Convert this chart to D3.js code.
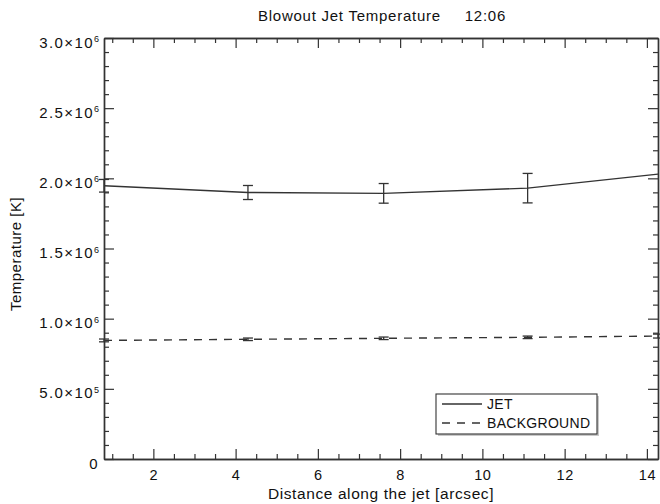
<!DOCTYPE html>
<html>
<head>
<meta charset="utf-8">
<script src="https://cdn.jsdelivr.net/npm/d3@7"></script>
<style>
  html, body { margin: 0; padding: 0; background: #fff; }
  svg { display: block; font-family: "Liberation Sans", Arial, Helvetica, sans-serif; }
</style>
</head>
<body>
<svg id="chart" width="660" height="504"></svg>
<script>
// ---- Data ----
const distance = [0.8, 4.3, 7.6, 11.1, 14.27];
const jetTemp = [1.947e6, 1.899e6, 1.893e6, 1.930e6, 2.030e6];
const jetErr = [0.045e6, 0.05e6, 0.07e6, 0.105e6, 0];
const bgTemp = [0.845e6, 0.853e6, 0.860e6, 0.867e6, 0.876e6];
const bgErr = [0.010e6, 0.009e6, 0.009e6, 0.009e6, 0.014e6];

const xTicks = [2, 4, 6, 8, 10, 12, 14];
const xTickLabels = ["2", "4", "6", "8", "10", "12", "14"];
const yTicks = [0, 5e5, 1.0e6, 1.5e6, 2.0e6, 2.5e6, 3.0e6];
const yTickLabels = ["0", "5.0×10^5", "1.0×10^6", "1.5×10^6", "2.0×10^6", "2.5×10^6", "3.0×10^6"];
const xMinor = d3.range(1.0, 14.01, 0.5).filter(v => Math.abs(v - Math.round(v / 2) * 2) > 1e-6);
const yMinor = d3.range(1e5, 3e6, 1e5).filter(v => Math.abs(v / 5e5 - Math.round(v / 5e5)) > 1e-6);

const titleText = "Blowout Jet Temperature";
const timeText = "12:06";
const xTitle = "Distance along the jet [arcsec]";
const yTitle = "Temperature [K]";
const seriesNames = ["JET", "BACKGROUND"];

// ---- Layout ----
const L = 104, R = 658, T = 38, B = 459;
const ink = "#333";
const svg = d3.select("#chart");

const x = d3.scaleLinear().domain([0.8, 14.27]).range([L, R]);
const y = d3.scaleLinear().domain([0, 3e6]).range([B, T]);

function styleAxis(g) {
  g.select(".domain").attr("stroke", ink).attr("stroke-width", 1.4);
  g.selectAll(".tick line").attr("stroke", ink).attr("stroke-width", 1.2);
  g.selectAll("text").attr("fill", "#111");
}

// minor ticks
svg.append("g").attr("transform", `translate(0,${B})`)
  .call(d3.axisBottom(x).tickValues(xMinor).tickSizeInner(-5).tickSizeOuter(0).tickFormat(""))
  .call(styleAxis);
svg.append("g").attr("transform", `translate(0,${T})`)
  .call(d3.axisTop(x).tickValues(xMinor).tickSizeInner(-5).tickSizeOuter(0).tickFormat(""))
  .call(styleAxis);
svg.append("g").attr("transform", `translate(${L},0)`)
  .call(d3.axisLeft(y).tickValues(yMinor).tickSizeInner(-5).tickSizeOuter(0).tickFormat(""))
  .call(styleAxis);
svg.append("g").attr("transform", `translate(${R},0)`)
  .call(d3.axisRight(y).tickValues(yMinor).tickSizeInner(-5).tickSizeOuter(0).tickFormat(""))
  .call(styleAxis);

// major ticks
const xb = svg.append("g").attr("transform", `translate(0,${B})`)
  .call(d3.axisBottom(x).tickValues(xTicks).tickSizeInner(-10).tickSizeOuter(0)
    .tickPadding(11).tickFormat((d, i) => xTickLabels[i]))
  .call(styleAxis);
xb.selectAll("text").attr("font-size", 14.5).attr("letter-spacing", 0.6).attr("font-family", null);
svg.append("g").attr("transform", `translate(0,${T})`)
  .call(d3.axisTop(x).tickValues(xTicks).tickSizeInner(-10).tickSizeOuter(0).tickFormat(""))
  .call(styleAxis);
const yl = svg.append("g").attr("transform", `translate(${L},0)`)
  .call(d3.axisLeft(y).tickValues(yTicks).tickSizeInner(-10).tickSizeOuter(0)
    .tickPadding(5).tickFormat((d, i) => yTickLabels[i]))
  .call(styleAxis);
yl.selectAll("text").attr("font-family", null).attr("font-size", 15).attr("letter-spacing", 1.4)
  .attr("dy", "0.6em")
  .each(function () {
    const t = d3.select(this);
    const parts = t.text().split("^");
    t.text(parts[0]);
    if (parts[1]) {
      t.append("tspan").attr("dy", "-0.6em").attr("font-size", 9).attr("letter-spacing", 0).text(parts[1]);
    }
  });
svg.append("g").attr("transform", `translate(${R},0)`)
  .call(d3.axisRight(y).tickValues(yTicks).tickSizeInner(-10).tickSizeOuter(0).tickFormat(""))
  .call(styleAxis);

// ---- Series ----
const idx = d3.range(distance.length);
const line = (vals) => d3.line().x(i => x(distance[i])).y(i => y(vals[i]))(idx);

svg.append("path").attr("d", line(jetTemp)).attr("fill", "none")
  .attr("stroke", ink).attr("stroke-width", 1.4);
svg.append("path").attr("d", line(bgTemp)).attr("fill", "none")
  .attr("stroke", ink).attr("stroke-width", 1.4).attr("stroke-dasharray", "8,7");

function errBars(vals, errs) {
  const g = svg.append("g").attr("stroke", ink).attr("stroke-width", 1.3);
  idx.filter(i => errs[i] > 0).forEach(i => {
    const cx = x(distance[i]);
    const y1 = y(vals[i] + errs[i]), y2 = y(vals[i] - errs[i]);
    g.append("line").attr("x1", cx).attr("x2", cx).attr("y1", y1).attr("y2", y2);
    g.append("line").attr("x1", cx - 5).attr("x2", cx + 5).attr("y1", y1).attr("y2", y1);
    g.append("line").attr("x1", cx - 5).attr("x2", cx + 5).attr("y1", y2).attr("y2", y2);
  });
}
errBars(jetTemp, jetErr);
errBars(bgTemp, bgErr);

// ---- Titles ----
svg.append("text").attr("x", 258).attr("y", 21).attr("font-size", 15).attr("letter-spacing", 0.75)
  .attr("fill", "#111").text(titleText);
svg.append("text").attr("x", 506).attr("y", 21).attr("font-size", 15).attr("letter-spacing", 0.75)
  .attr("text-anchor", "end").attr("fill", "#111").text(timeText);
svg.append("text").attr("x", (L + R) / 2).attr("y", 499).attr("font-size", 15.5).attr("letter-spacing", 0.6)
  .attr("text-anchor", "middle").attr("fill", "#111").text(xTitle);
svg.append("text").attr("transform", `translate(21,${254}) rotate(-90)`).attr("font-size", 15)
  .attr("letter-spacing", 0.5).attr("text-anchor", "middle").attr("fill", "#111").text(yTitle);

// ---- Legend ----
const lg = svg.append("g");
lg.append("rect").attr("x", 438).attr("y", 396).attr("width", 161).attr("height", 40).attr("fill", "#c8c8c8");
lg.append("rect").attr("x", 436).attr("y", 394).attr("width", 161).attr("height", 40)
  .attr("fill", "#fff").attr("stroke", ink).attr("stroke-width", 1.1);
const dashes = [null, "8,7"];
seriesNames.forEach((name, i) => {
  const ly = 404 + i * 19;
  lg.append("line").attr("x1", 442).attr("x2", 482).attr("y1", ly).attr("y2", ly)
    .attr("stroke", ink).attr("stroke-width", 1.3).attr("stroke-dasharray", dashes[i]);
  lg.append("text").attr("x", 487).attr("y", ly + 5).attr("font-size", 14).attr("letter-spacing", 0.3)
    .attr("fill", "#111").text(name);
});
</script>
</body>
</html>
